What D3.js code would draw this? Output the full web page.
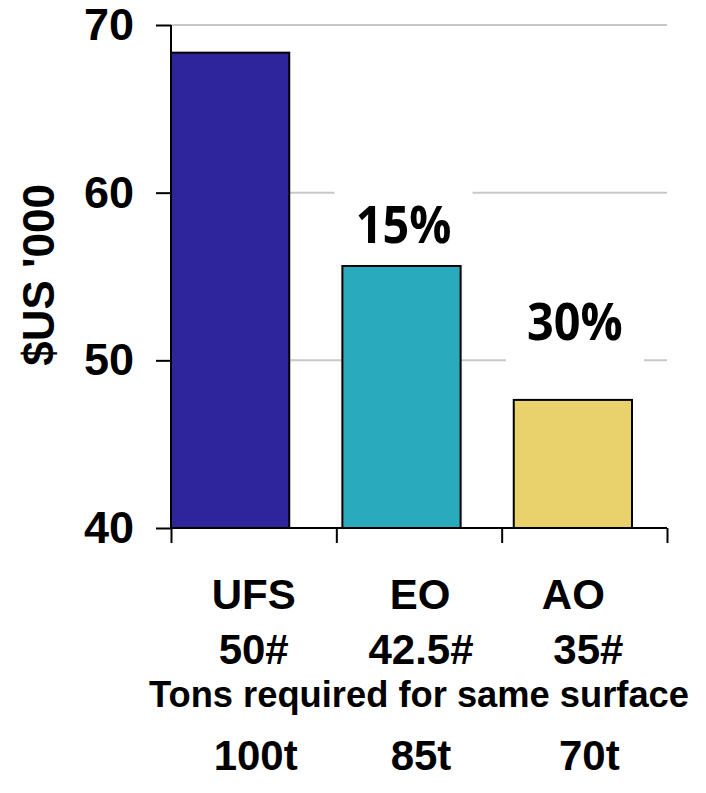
<!DOCTYPE html>
<html>
<head>
<meta charset="utf-8">
<script src="https://cdn.jsdelivr.net/npm/d3@7"></script>
<style>
  html, body { margin: 0; padding: 0; background: #fff; }
  svg { display: block; }
</style>
</head>
<body>
<script>
// ---- data ----
const categories = ["UFS", "EO", "AO"];
const grades = ["50#", "42.5#", "35#"];
const tons = ["100t", "85t", "70t"];
const costs = [68.35, 55.63, 47.64];
const savings = [null, "15%", "30%"];
const colors = ["#2E249B", "#2AABBD", "#E9D16C"];
const yTicks = [40, 50, 60, 70];
const gridTicks = [50, 60, 70];
const yTitle = "$US '000";
const xTitle = "Tons required for same surface";

const W = 706, H = 793;
const svg = d3.select("body").append("svg").attr("width", W).attr("height", H);

const x0 = 171, x1 = 667, yTop = 25, yBot = 528;
const y = d3.scaleLinear().domain([40, 70]).range([yBot, yTop]);
const xBar = d3.scaleBand().domain(categories).range([x0, 632]).paddingInner(0.31).paddingOuter(0);
const xCat = d3.scaleBand().domain(categories).range([x0, x1]);
const xBound = d3.scaleLinear().domain([0, categories.length]).range([x0, x1]);

// gridlines
svg.append("g").selectAll("line").data(gridTicks).join("line")
  .attr("x1", x0).attr("x2", x1)
  .attr("y1", d => y(d)).attr("y2", d => y(d))
  .attr("stroke", "#c8c8c8").attr("stroke-width", 2);

// bars
svg.append("g").selectAll("rect").data(categories).join("rect")
  .attr("x", d => xBar(d))
  .attr("width", xBar.bandwidth())
  .attr("y", (d, i) => y(costs[i]))
  .attr("height", (d, i) => y(40) - y(costs[i]))
  .attr("fill", (d, i) => colors[i])
  .attr("stroke", "#000").attr("stroke-width", 2);

// y axis
const yAxis = d3.axisLeft(y).tickValues(yTicks).tickSize(15).tickPadding(22).tickFormat(d3.format("d"));
const gy = svg.append("g").attr("transform", `translate(${x0},0)`).call(yAxis);
gy.select(".domain").attr("stroke", "#000").attr("stroke-width", 2).attr("d", `M0,${yTop}V${yBot}`);
gy.selectAll(".tick line").attr("stroke", "#000").attr("stroke-width", 2);
gy.selectAll(".tick text")
  .attr("font-family", "'Liberation Sans', Arial, sans-serif")
  .attr("font-weight", "bold").attr("font-size", 45).attr("fill", "#000");

// x axis (boundary ticks)
const xAxis = d3.axisBottom(xBound).tickValues(d3.range(categories.length + 1)).tickSize(15).tickFormat("");
const gx = svg.append("g").attr("transform", `translate(0,${yBot})`).call(xAxis);
gx.select(".domain").attr("stroke", "#000").attr("stroke-width", 2).attr("d", `M${x0},0H${x1}`);
gx.selectAll(".tick line").attr("stroke", "#000").attr("stroke-width", 2);

// percentage labels with white boxes
const labelDy = [0, 23, 60];
const pct = svg.append("g");
savings.forEach((s, i) => {
  if (!s) return;
  const cx = xBar(categories[i]) + xBar.bandwidth() / 2 + 2;
  const base = y(costs[i]) - labelDy[i];
  pct.append("rect")
    .attr("x", cx - 69).attr("y", base - 58)
    .attr("width", 138).attr("height", 80)
    .attr("fill", "#fff");
  pct.append("text")
    .attr("transform", `translate(${cx},${base}) scale(0.9,1)`)
    .attr("text-anchor", "middle")
    .attr("font-family", "'Open Sans', 'Noto Sans', sans-serif")
    .attr("font-weight", "bold").attr("font-size", 52)
    .attr("fill", "#000").text(s);
});

// y title
svg.append("text")
  .attr("transform", `translate(54,275) rotate(-90)`)
  .attr("text-anchor", "middle")
  .attr("font-family", "'Liberation Sans', Arial, sans-serif")
  .attr("font-weight", "bold").attr("font-size", 44)
  .attr("fill", "#000").text(yTitle);

// category rows
const font = "'Liberation Sans', Arial, sans-serif";
const rows = [
  { vals: categories, base: 609, dx: [0, 1, -11] },
  { vals: grades, base: 664, dx: [0, 2, 4] },
  { vals: tons, base: 770, dx: [2, 2, 5] }
];
rows.forEach(r => {
  svg.append("g").selectAll("text").data(r.vals).join("text")
    .attr("x", (d, i) => xCat(categories[i]) + xCat.bandwidth() / 2 + r.dx[i])
    .attr("y", r.base)
    .attr("text-anchor", "middle")
    .attr("font-family", font).attr("font-weight", "bold").attr("font-size", 42)
    .attr("fill", "#000").text(d => d);
});

svg.append("text")
  .attr("x", 419).attr("y", 707)
  .attr("text-anchor", "middle")
  .attr("font-family", font).attr("font-weight", "bold").attr("font-size", 36.3)
  .attr("fill", "#000").text(xTitle);
</script>
</body>
</html>
